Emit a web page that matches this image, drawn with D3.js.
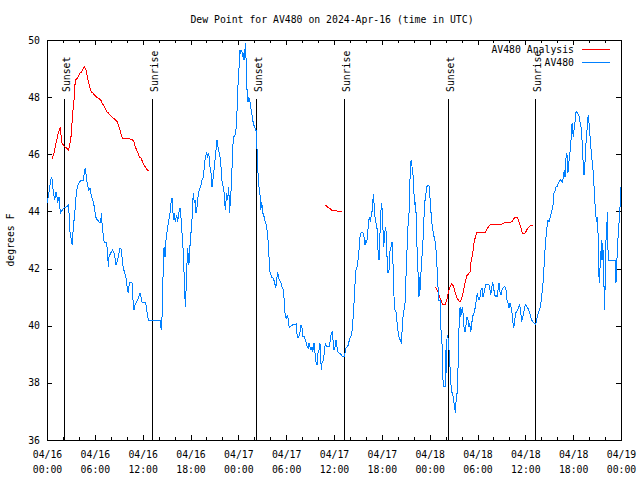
<!DOCTYPE html>
<html><head><meta charset="utf-8">
<script src="https://cdn.jsdelivr.net/npm/d3@7"></script>
<style>body{margin:0;background:#fff} svg{display:block}</style>
</head><body>
<svg id="chart" width="640" height="480"></svg>
<script>
// ---------- data ----------
const chartTitle = "Dew Point for AV480 on 2024-Apr-16 (time in UTC)";
const yAxisLabel = "degrees F";
const startTime = Date.UTC(2024, 3, 16, 0, 0);
const endTime = Date.UTC(2024, 3, 19, 0, 0);
const yTickValues = [36, 38, 40, 42, 44, 46, 48, 50];
const majorTickHours = [0, 6, 12, 18, 24, 30, 36, 42, 48, 54, 60, 66, 72];
const minorTickHours = [0,2,4,6,8,10,12,14,16,18,20,22,24,26,28,30,32,34,36,38,40,42,44,46,48,50,52,54,56,58,60,62,64,66,68,70,72];
const sunLabels = ["Sunset", "Sunrise", "Sunset", "Sunrise", "Sunset", "Sunrise"];
const sunHours = [2.17, 13.21, 26.25, 37.29, 50.34, 61.25];
const seriesNames = ["AV480 Analysis", "AV480"];

// [hours since 2024-04-16 00:00 UTC, dew point F]; null = gap
const analysisData = [
[0.66,45.84],[0.88,46.05],[1.04,46.26],[1.22,46.5],[1.38,46.71],[1.54,46.85],[1.67,46.96],[1.76,46.68],[1.84,46.4],[2.04,46.33],[2.26,46.26],[2.47,46.22],[2.72,46.15],[2.89,46.4],[3.01,46.61],[3.14,47.1],[3.26,47.55],[3.39,47.9],[3.47,48.25],[3.55,48.6],[3.73,48.64],[3.93,48.71],[4.14,48.85],[4.35,48.88],[4.55,49.02],[4.73,49.06],[4.89,48.95],[5.06,48.71],[5.23,48.5],[5.39,48.32],[5.56,48.18],[5.73,48.15],[5.93,48.08],[6.23,48.0],[6.44,47.97],[6.74,47.9],[6.90,47.8],[7.06,47.73],[7.28,47.62],[7.49,47.48],[7.69,47.45],[7.90,47.38],[8.12,47.31],[8.32,47.27],[8.57,47.2],[8.82,47.13],[8.94,47.03],[9.16,46.85],[9.37,46.61],[9.57,46.54],[10.41,46.54],[10.75,46.5],[10.91,46.43],[11.08,46.26],[11.25,46.15],[11.41,46.05],[11.58,45.91],[11.79,45.87],[12.00,45.73],[12.17,45.63],[12.42,45.52],[12.58,45.45],[12.76,45.42],
null,
[34.87,44.23],[35.16,44.16],[35.41,44.12],[35.71,44.05],[36.13,44.05],[36.34,44.02],[36.97,43.98],
null,
[48.67,41.36],[48.88,41.29],[49.08,41.15],[49.30,40.97],[49.51,40.83],[49.64,40.73],[49.92,40.73],[50.14,40.9],[50.34,41.15],[50.55,41.36],[50.76,41.46],[50.97,41.39],[51.18,41.18],[51.39,41.0],[51.59,40.9],[51.81,40.83],[52.02,40.97],[52.22,41.18],[52.43,41.5],[52.64,41.74],[52.85,41.81],[53.06,41.88],[53.19,42.23],[53.40,42.55],[53.56,42.9],[53.73,43.1],[53.90,43.25],[54.31,43.25],[54.94,43.25],[55.15,43.35],[55.36,43.46],[55.57,43.53],[55.78,43.56],[57.04,43.56],[57.33,43.6],[58.08,43.6],[58.42,43.67],[58.62,43.77],[58.83,43.81],[59.04,43.77],[59.24,43.6],[59.46,43.42],[59.62,43.25],[59.83,43.21],[60.05,43.28],[60.25,43.39],[60.50,43.46],[60.71,43.53],[60.88,43.49]
];

const observedData = [
[0.04,44.3],[0.29,44.75],[0.46,45.1],[0.59,45.21],[0.72,44.93],[0.79,44.65],[0.97,44.4],[1.13,44.68],[1.22,44.58],[1.34,44.3],[1.51,44.51],[1.59,44.16],[1.72,43.95],[1.92,44.05],[2.13,44.12],[2.47,44.16],[2.67,44.23],[2.80,43.81],[2.89,43.25],[3.05,43.0],[3.17,42.83],[3.30,43.46],[3.47,43.88],[3.60,44.4],[3.80,44.86],[4.05,45.03],[4.35,45.1],[4.55,45.1],[4.68,45.35],[4.80,45.52],[4.93,45.21],[5.06,44.93],[5.23,44.75],[5.39,44.82],[5.48,44.65],[5.64,44.47],[5.81,44.33],[5.93,44.16],[6.11,43.81],[6.31,43.7],[6.56,43.63],[6.74,43.6],[6.81,43.95],[6.94,43.46],[7.11,43.07],[7.19,42.9],[7.49,42.9],[7.61,42.48],[7.69,42.06],[7.78,42.41],[7.99,42.55],[8.24,42.65],[8.40,42.55],[8.57,42.3],[8.66,42.13],[8.82,42.27],[8.99,42.48],[9.16,42.72],[9.28,42.69],[9.45,42.3],[9.57,42.02],[9.75,41.85],[9.91,41.67],[10.07,41.32],[10.20,41.15],[10.32,41.5],[10.50,41.53],[10.66,41.5],[10.75,41.0],[10.91,40.55],[11.04,40.73],[11.25,40.83],[11.45,40.97],[11.67,41.15],[11.83,40.97],[11.92,40.83],[12.17,40.8],[12.38,40.8],[12.51,40.55],[12.63,40.31],[12.76,40.2],[13.55,40.2],[14.17,40.2],[14.26,40.03],[14.34,39.85],[14.43,40.31],[14.51,41.32],[14.59,42.06],[14.68,42.76],[14.80,42.41],[14.93,43.0],[15.09,43.35],[15.22,43.6],[15.43,43.95],[15.55,44.3],[15.68,44.47],[15.77,44.05],[15.89,43.7],[15.97,43.95],[16.09,43.63],[16.27,43.88],[16.39,43.63],[16.52,43.95],[16.68,44.12],[16.81,43.77],[16.97,43.1],[17.10,42.55],[17.22,41.6],[17.35,40.66],[17.44,41.25],[17.52,41.95],[17.65,42.72],[17.77,42.13],[17.90,42.37],[17.94,42.83],[18.06,43.25],[18.15,43.46],[18.23,43.98],[18.35,44.65],[18.48,44.3],[18.60,44.4],[18.69,43.95],[18.82,44.16],[18.94,44.51],[19.10,44.75],[19.28,44.86],[19.44,45.1],[19.61,45.21],[19.73,45.56],[19.86,45.91],[20.03,46.05],[20.16,45.87],[20.28,46.05],[20.45,45.56],[20.57,45.35],[20.70,44.86],[20.86,45.21],[21.04,45.7],[21.20,46.15],[21.32,46.5],[21.45,46.26],[21.58,46.08],[21.70,45.91],[21.86,45.45],[21.99,44.93],[22.17,44.86],[22.24,44.51],[22.37,44.05],[22.54,44.65],[22.67,44.4],[22.79,44.86],[22.92,43.95],[22.99,44.4],[23.12,44.86],[23.21,45.56],[23.29,46.26],[23.42,46.61],[23.58,46.68],[23.80,47.03],[23.87,48.0],[24.00,48.6],[24.12,49.2],[24.21,49.65],[24.30,49.55],[24.42,49.65],[24.55,49.4],[24.62,49.55],[24.71,49.3],[24.80,49.47],[24.87,49.9],[24.96,49.37],[25.05,48.6],[25.13,47.9],[25.21,47.83],[25.30,47.97],[25.43,47.9],[25.55,47.66],[25.68,47.45],[25.80,47.2],[25.93,47.03],[26.09,46.92],[26.18,46.85],[26.25,46.85],[26.30,46.33],[26.38,46.05],[26.43,45.56],[26.51,45.1],[26.63,44.75],[26.76,44.51],[26.81,44.05],[26.93,44.33],[27.06,43.95],[27.18,43.88],[27.31,43.7],[27.43,43.6],[27.56,43.46],[27.72,43.0],[27.85,42.41],[27.97,41.88],[28.19,41.7],[28.39,41.67],[28.56,41.5],[28.69,41.32],[28.81,41.6],[28.94,41.88],[29.06,41.7],[29.14,41.6],[29.32,41.53],[29.44,41.36],[29.57,41.32],[29.69,41.15],[29.77,40.8],[29.89,40.31],[30.02,40.27],[30.14,40.38],[30.27,40.2],[30.39,39.92],[30.52,39.96],[30.82,40.03],[31.11,40.03],[31.27,40.06],[31.40,39.57],[31.57,39.61],[31.74,39.78],[31.86,40.03],[31.99,39.92],[32.11,39.61],[32.28,39.61],[32.40,39.5],[32.53,39.4],[32.65,39.26],[32.78,39.22],[32.87,39.4],[32.99,39.26],[33.12,39.15],[33.24,39.26],[33.33,39.08],[33.49,39.4],[33.62,39.05],[33.74,38.73],[33.87,38.63],[33.99,39.05],[34.12,39.15],[34.24,39.4],[34.33,38.87],[34.41,38.45],[34.50,38.7],[34.66,38.8],[34.78,39.05],[34.91,39.4],[35.09,39.26],[35.41,39.26],[35.54,39.5],[35.66,39.75],[35.79,39.78],[35.88,39.5],[36.00,39.15],[36.13,39.26],[36.25,39.5],[36.38,39.26],[36.50,39.08],[36.63,39.05],[36.92,38.98],[37.09,38.91],[37.26,38.91],[37.38,39.05],[37.51,39.22],[37.63,39.26],[37.80,39.33],[37.92,39.5],[38.05,39.61],[38.22,39.68],[38.35,40.1],[38.47,40.55],[38.55,41.0],[38.64,41.5],[38.76,41.95],[38.89,42.06],[38.97,42.2],[39.10,42.55],[39.17,42.76],[39.26,43.1],[39.39,43.25],[39.51,43.28],[39.64,43.25],[39.76,43.1],[39.89,42.83],[39.98,43.0],[40.10,42.9],[40.23,43.25],[40.35,43.7],[40.48,43.77],[40.56,43.63],[40.68,43.88],[40.81,44.05],[40.93,44.61],[41.02,44.3],[41.14,43.81],[41.27,43.6],[41.43,43.35],[41.52,42.65],[41.65,42.3],[41.73,42.9],[41.86,43.95],[41.98,44.3],[42.06,43.95],[42.15,43.35],[42.24,42.76],[42.36,43.25],[42.49,43.46],[42.61,42.9],[42.69,41.95],[42.77,41.85],[42.90,41.95],[43.03,42.65],[43.15,42.76],[43.28,42.93],[43.36,42.48],[43.44,41.85],[43.53,41.0],[43.65,40.55],[43.78,40.48],[43.87,40.2],[43.99,39.96],[44.07,39.68],[44.19,39.57],[44.32,39.5],[44.44,39.43],[44.57,39.92],[44.66,40.31],[44.91,40.8],[45.03,41.7],[45.16,42.65],[45.28,43.46],[45.41,43.95],[45.50,44.3],[45.53,45.1],[45.62,45.7],[45.70,45.8],[45.79,45.56],[45.87,45.45],[45.95,45.1],[46.04,44.61],[46.12,44.23],[46.20,44.33],[46.29,43.95],[46.37,43.1],[46.50,42.06],[46.58,41.7],[46.66,41.0],[46.75,41.7],[46.79,41.25],[46.91,41.85],[47.00,42.3],[47.13,42.72],[47.20,43.28],[47.29,43.81],[47.38,44.4],[47.45,44.4],[47.63,44.86],[47.79,44.93],[47.96,44.86],[48.08,44.3],[48.21,43.81],[48.33,43.46],[48.46,43.25],[48.58,43.07],[48.71,42.9],[48.83,42.55],[48.96,41.85],[49.13,40.9],[49.30,40.9],[49.39,40.1],[49.46,39.61],[49.59,39.22],[49.64,38.35],[49.71,37.86],[49.96,37.86],[50.01,39.15],[50.09,38.35],[50.18,39.61],[50.26,39.68],[50.34,39.5],[50.43,39.15],[50.55,38.56],[50.64,38.21],[50.71,37.68],[50.84,37.65],[50.97,37.5],[51.05,37.3],[51.14,37.12],[51.22,36.95],[51.30,37.33],[51.39,37.4],[51.47,37.86],[51.56,38.56],[51.64,39.75],[51.72,40.1],[51.81,40.66],[51.89,40.31],[52.02,40.55],[52.14,40.62],[52.22,40.31],[52.31,39.96],[52.43,39.78],[52.56,40.03],[52.68,40.31],[52.81,40.2],[52.94,39.96],[53.02,40.1],[53.15,39.78],[53.27,39.96],[53.35,40.31],[53.48,40.38],[53.60,40.48],[53.73,40.66],[53.85,40.9],[53.98,41.15],[54.06,41.0],[54.19,40.9],[54.31,41.0],[54.44,41.25],[54.57,41.32],[54.69,41.0],[54.82,41.15],[54.94,41.32],[55.07,41.46],[55.32,41.43],[55.44,41.43],[55.57,41.25],[55.66,41.08],[55.78,41.32],[55.91,41.53],[55.98,41.36],[56.11,41.18],[56.23,41.0],[56.32,41.08],[56.45,41.0],[56.57,41.25],[56.70,41.5],[56.82,41.18],[56.95,41.08],[57.07,41.25],[57.20,41.32],[57.33,41.36],[57.45,41.36],[57.58,41.25],[57.70,40.9],[57.83,40.8],[57.95,40.62],[58.08,40.8],[58.20,40.66],[58.33,40.45],[58.45,40.1],[58.54,39.92],[58.67,40.2],[58.79,40.45],[59.04,40.55],[59.17,40.66],[59.30,40.73],[59.42,40.45],[59.55,40.2],[59.67,40.27],[59.80,40.45],[59.92,40.66],[60.05,40.73],[60.17,40.66],[60.30,40.62],[60.42,40.55],[60.55,40.45],[60.68,40.31],[60.80,40.2],[60.93,40.13],[61.05,40.1],[61.25,40.06],[61.38,40.13],[61.50,40.31],[61.63,40.45],[61.75,40.55],[61.88,40.66],[62.00,40.9],[62.13,41.25],[62.26,41.6],[62.34,42.06],[62.47,42.65],[62.59,43.1],[62.72,43.46],[62.84,43.7],[62.97,43.63],[63.16,43.85],[63.35,44.05],[63.54,44.33],[63.60,44.65],[63.76,44.75],[63.85,44.86],[64.01,44.86],[64.14,45.0],[64.26,45.03],[64.39,45.1],[64.64,45.03],[64.76,45.17],[64.89,45.45],[64.98,45.21],[65.07,45.7],[65.14,46.05],[65.27,45.91],[65.35,45.35],[65.44,45.7],[65.52,45.8],[65.60,46.05],[65.69,46.4],[65.77,46.61],[65.86,47.1],[65.94,46.85],[66.02,46.61],[66.11,46.85],[66.19,46.96],[66.32,47.45],[66.40,47.48],[66.52,47.45],[66.65,47.38],[66.77,47.31],[66.86,47.13],[66.98,46.96],[67.11,46.5],[67.20,46.08],[67.27,45.56],[67.36,45.28],[67.45,45.56],[67.52,45.91],[67.61,46.4],[67.74,46.85],[67.82,47.2],[67.90,47.38],[67.99,47.1],[68.08,46.75],[68.15,46.5],[68.28,46.05],[68.40,45.7],[68.53,45.35],[68.62,44.86],[68.70,44.4],[68.83,43.98],[68.90,43.63],[68.99,43.81],[69.12,43.25],[69.20,41.95],[69.28,41.5],[69.37,42.06],[69.46,42.3],[69.53,43.0],[69.62,42.3],[69.71,42.9],[69.78,42.41],[69.87,41.36],[69.96,40.55],[70.03,41.95],[70.12,43.0],[70.21,43.25],[70.28,43.98],[70.37,42.65],[70.46,42.3],[71.29,42.3],[71.37,41.5],[71.46,42.06],[71.54,42.65],[71.66,43.25],[71.75,43.6],[71.84,43.98],[71.92,44.4],[71.97,44.86]
];

// ---------- styles / layout ----------
const W = 640, H = 480;
const plot = {left: 47, right: 621, top: 40, bottom: 440};
const colors = {analysis: "#ff0000", observed: "#0080ff"};
const FONT = "'DejaVu Sans Mono', 'Liberation Mono', monospace";
const FS = 9.8;

const svg = d3.select("#chart");
svg.append("rect").attr("width", W).attr("height", H).attr("fill", "#fff");

const toDate = h => new Date(startTime + h * 3600000);
const x = d3.scaleUtc().domain([new Date(startTime), new Date(endTime)]).range([plot.left, plot.right]);
const y = d3.scaleLinear().domain([36, 50]).range([plot.bottom, plot.top]);

function styleAxis(g) {
  g.attr("font-family", FONT).attr("font-size", FS);
  g.select(".domain").remove();
  g.selectAll("line").attr("stroke", "#000").attr("shape-rendering", "crispEdges");
  g.selectAll("text").attr("fill", "#000");
}

// minor x ticks (bottom & top)
svg.append("g").attr("transform", `translate(0,${plot.bottom})`)
  .call(d3.axisBottom(x).tickValues(minorTickHours.map(toDate)).tickSizeInner(-3).tickSizeOuter(0).tickFormat(""))
  .call(styleAxis);
svg.append("g").attr("transform", `translate(0,${plot.top})`)
  .call(d3.axisTop(x).tickValues(minorTickHours.map(toDate)).tickSizeInner(-3).tickSizeOuter(0).tickFormat(""))
  .call(styleAxis);
// major x ticks
const fmtD = d3.utcFormat("%m/%d"), fmtT = d3.utcFormat("%H:%M");
const xAxisG = svg.append("g").attr("transform", `translate(0,${plot.bottom})`)
  .call(d3.axisBottom(x).tickValues(majorTickHours.map(toDate)).tickSizeInner(-5).tickSizeOuter(0).tickPadding(0))
  .call(styleAxis);
xAxisG.selectAll(".tick text").each(function(d) {
  const t = d3.select(this);
  t.text(null).attr("y", 18).attr("dy", 0);
  t.append("tspan").attr("x", 0).attr("dy", 0).text(fmtD(d));
  t.append("tspan").attr("x", 0).attr("dy", 15).text(fmtT(d));
});
svg.append("g").attr("transform", `translate(0,${plot.top})`)
  .call(d3.axisTop(x).tickValues(majorTickHours.map(toDate)).tickSizeInner(-5).tickSizeOuter(0).tickFormat(""))
  .call(styleAxis);
// y axes
svg.append("g").attr("transform", `translate(${plot.left},0)`)
  .call(d3.axisLeft(y).tickValues(yTickValues).tickSizeInner(-5).tickSizeOuter(0).tickPadding(7))
  .call(styleAxis);
svg.append("g").attr("transform", `translate(${plot.right},0)`)
  .call(d3.axisRight(y).tickValues(yTickValues).tickSizeInner(-5).tickSizeOuter(0).tickFormat(""))
  .call(styleAxis);

// border
svg.append("rect").attr("x", plot.left + 0.5).attr("y", plot.top + 0.5)
  .attr("width", plot.right - plot.left).attr("height", plot.bottom - plot.top)
  .attr("fill", "none").attr("stroke", "#000").attr("shape-rendering", "crispEdges");

// title & y label
svg.append("text").attr("x", 332).attr("y", 23).attr("text-anchor", "middle")
  .attr("font-family", FONT).attr("font-size", FS).text(chartTitle);
svg.append("text").attr("transform", "translate(13.5,240) rotate(-90)").attr("text-anchor", "middle")
  .attr("font-family", FONT).attr("font-size", FS).text(yAxisLabel);

// sunrise / sunset markers
const sunG = svg.append("g");
sunHours.forEach((h, i) => {
  const xp = Math.round(x(toDate(h))) + 0.5;
  sunG.append("line").attr("x1", xp).attr("x2", xp).attr("y1", 99).attr("y2", plot.bottom)
    .attr("stroke", "#000").attr("shape-rendering", "crispEdges");
  sunG.append("text").attr("transform", `translate(${xp + 5},92) rotate(-90)`)
    .attr("font-family", FONT).attr("font-size", FS).text(sunLabels[i]);
});

// data lines
const line = d3.line().defined(d => d !== null)
  .x(d => x(toDate(d[0]))).y(d => y(d[1]));
svg.append("path").datum(analysisData).attr("d", line).attr("fill", "none")
  .attr("stroke", colors.analysis).attr("stroke-width", 1).attr("shape-rendering", "crispEdges");
svg.append("path").datum(observedData).attr("d", line).attr("fill", "none")
  .attr("stroke", colors.observed).attr("stroke-width", 1).attr("shape-rendering", "crispEdges");

// legend
const legendColors = [colors.analysis, colors.observed];
seriesNames.forEach((name, i) => {
  const cy = 49.5 + i * 13;
  svg.append("text").attr("x", 574).attr("y", cy + 3.6).attr("text-anchor", "end")
    .attr("font-family", FONT).attr("font-size", FS).text(name);
  svg.append("line").attr("x1", 582).attr("x2", 610).attr("y1", cy).attr("y2", cy)
    .attr("stroke", legendColors[i]).attr("shape-rendering", "crispEdges");
});
</script>
</body></html>
